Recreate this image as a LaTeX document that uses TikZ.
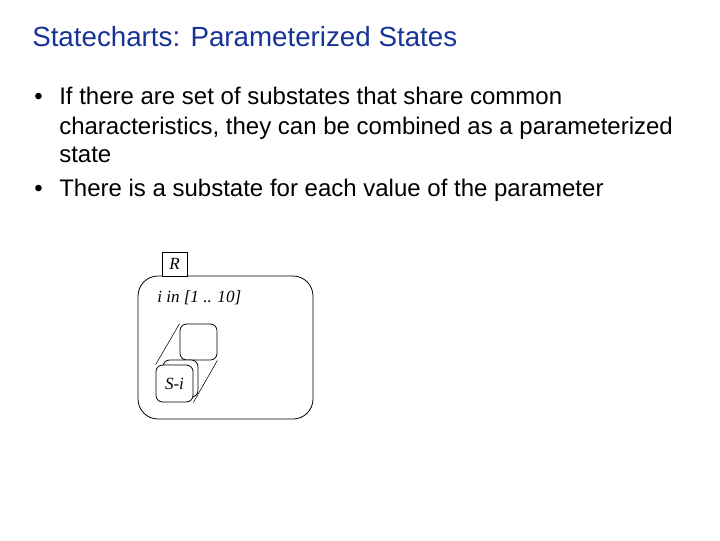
\documentclass[tikz,border=0pt]{standalone}
\usepackage{fontspec}
\setmainfont{Liberation Sans}
\newfontfamily\diagfont{Liberation Serif}
\usepackage{xcolor}
\definecolor{titleblue}{RGB}{22,52,150}

\begin{document}
\begin{tikzpicture}[x=0.75pt,y=0.75pt,yscale=-1,xscale=1]
    \useasboundingbox (0,0) rectangle (720,540);
    \tikzset{
      statebox/.style={draw, line width=0.6pt, fill=white, inner sep=0pt},
      bodytext/.style={anchor=base west, inner sep=0pt, font=\fontsize{18}{21}\selectfont},
      diagtext/.style={inner sep=0pt, font=\diagfont\itshape\fontsize{12.8}{15}\selectfont}
    }

    % Title
    \draw (32,46) node [anchor=base west][inner sep=0pt, text=titleblue, font=\fontsize{20.8}{24}\selectfont] (title) {Statecharts: Parameterized States};

    % Bullets
    \draw (34,104) node [bodytext] (dot1) {\textbullet};
    \draw (59,104) node [bodytext] (line1) {If there are set of substates that share common};
    \draw (59,134) node [bodytext] (line2) {characteristics, they can be combined as a parameterized};
    \draw (59,162) node [bodytext] (line3) {state};
    \draw (34,196) node [bodytext] (dot2) {\textbullet};
    \draw (59,196) node [bodytext] (line4) {There is a substate for each value of the parameter};

    % Outer state
    \node [statebox, rounded corners=15pt, minimum width=131.25pt, minimum height=107.25pt] (outer) at (225.5,347.5) {};
    % Name tab
    \node [statebox, minimum width=18.75pt, minimum height=18pt] (rtab) at (174.5,264) {};
    \draw (rtab) node [diagtext] (rname) {R};
    % Parameter text
    \draw (157,298) node [diagtext, anchor=west] (param) {i in [1 .. 10]};

    % Back substate
    \node [statebox, rounded corners=5pt, minimum width=27.75pt, minimum height=27pt] (back) at (198.5,342) {};
    % Middle substate
    \node [statebox, rounded corners=5pt, minimum width=26.25pt, minimum height=27.75pt] (mid) at (180.5,378.5) {};
    % Front substate
    \node [statebox, rounded corners=5pt, minimum width=27.75pt, minimum height=27.75pt] (front) at (174.5,383.5) {};
    \draw (front) node [diagtext] (sname) {S-i};

    %Straight Lines
    \draw [line width=0.4pt] (back.north west) -- (front.north west) ;
    \draw [line width=0.4pt] (back.south east) -- (front.south east) ;
\end{tikzpicture}
\end{document}
